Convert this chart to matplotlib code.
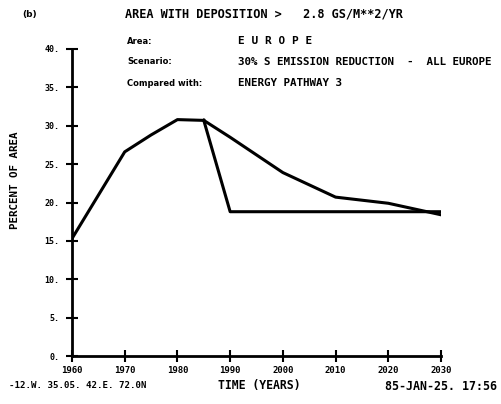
import matplotlib
matplotlib.use("Agg")
import matplotlib.pyplot as plt

years_common = [1960, 1970, 1975, 1980, 1985]
vals_common = [15.3, 26.6, 28.8, 30.8, 30.7]

years_upper = [1985, 1990, 2000, 2010, 2020, 2030]
vals_upper = [30.7, 28.5, 23.9, 20.7, 19.9, 18.4]

years_lower = [1985, 1990, 2000, 2010, 2020, 2030]
vals_lower = [30.7, 18.8, 18.8, 18.8, 18.8, 18.8]

xticks = [1960, 1970, 1980, 1990, 2000, 2010, 2020, 2030]
yticks = [0, 5, 10, 15, 20, 25, 30, 35, 40]
ytick_labels = ["0.", "5.", "10.", "15.", "20.", "25.", "30.", "35.", "40."]

W, H = 501, 404
fig = plt.figure(figsize=(W / 100, H / 100), dpi=100)
x0, x1, y0, y1 = 72, 441, 356, 49
ax = fig.add_axes([x0 / W, 1 - y0 / H, (x1 - x0) / W, (y0 - y1) / H])

lw = 2.2
ax.plot(years_common, vals_common, color="black", lw=lw, solid_joinstyle="round")
ax.plot(years_upper, vals_upper, color="black", lw=lw, solid_joinstyle="round")
ax.plot(years_lower, vals_lower, color="black", lw=lw, solid_joinstyle="round")

ax.set_xlim(1960, 2030)
ax.set_ylim(0, 40)
for s in ["top", "right"]:
    ax.spines[s].set_visible(False)
for s in ["left", "bottom"]:
    ax.spines[s].set_linewidth(2)
ax.set_xticks(xticks)
ax.set_xticklabels([str(x) for x in xticks], fontsize=6.5, fontweight="bold",
                   family="DejaVu Sans Mono")
ax.set_yticks(yticks)
ax.set_yticklabels(ytick_labels, fontsize=6, fontweight="bold",
                   family="DejaVu Sans Mono")
ax.tick_params(direction="inout", length=8, width=1.5)
ax.tick_params(axis="x", pad=3)
ax.tick_params(axis="y", pad=5)

def ftxt(x, y, s, size=8, ha="left", weight="bold", family="DejaVu Sans Mono", **kw):
    fig.text(x / W, 1 - y / H, s, fontsize=size, ha=ha, va="center",
             fontweight=weight, family=family, **kw)

ftxt(22, 14, "(b)", size=6.5, family="DejaVu Sans")
ftxt(125, 14, "AREA WITH DEPOSITION >   2.8 GS/M**2/YR", size=8.6)
ftxt(127, 41, "Area:", size=6, family="DejaVu Sans")
ftxt(127, 62, "Scenario:", size=6, family="DejaVu Sans")
ftxt(127, 83, "Compared with:", size=6, family="DejaVu Sans")
ftxt(238, 41, "E U R O P E", size=8)
ftxt(238, 62, "30% S EMISSION REDUCTION  -  ALL EUROPE", size=7.85)
ftxt(238, 83, "ENERGY PATHWAY 3", size=7.8)

fig.text(15 / W, 1 - 180 / H, "PERCENT OF AREA", rotation=90, fontsize=7.8,
         fontweight="bold", family="DejaVu Sans Mono", ha="center", va="center")
ftxt(259, 386, "TIME (YEARS)", size=8.3, ha="center")
ftxt(9, 386, "-12.W. 35.05. 42.E. 72.0N", size=6.6)
ftxt(497, 386, "85-JAN-25. 17:56", size=8.4, ha="right")

fig.savefig("out.png", dpi=100)
